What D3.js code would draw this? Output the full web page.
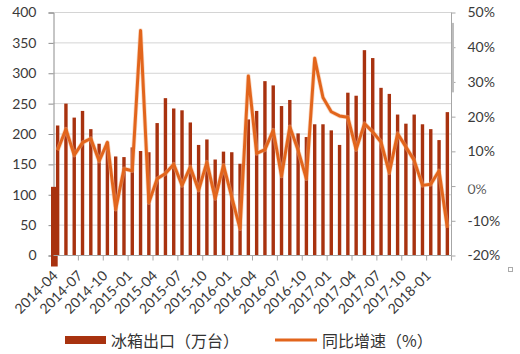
<!DOCTYPE html>
<html>
<head>
<meta charset="utf-8">
<script src="https://cdn.jsdelivr.net/npm/d3@7"></script>
<style>
  body { margin: 0; background: #fff; }
  .axis text { font-family: Lato, "Open Sans", sans-serif; font-size: 14px; fill: #3a3a3a; }
  .legend text { font-family: "Noto Sans CJK SC", sans-serif; font-size: 16px; fill: #333; }
</style>
</head>
<body>
<div id="chart-root"></div>
<script>
// months on the category axis
var months = [
  "2014-04","2014-05","2014-06","2014-07","2014-08","2014-09","2014-10","2014-11","2014-12",
  "2015-01","2015-02","2015-03","2015-04","2015-05","2015-06","2015-07","2015-08","2015-09",
  "2015-10","2015-11","2015-12","2016-01","2016-02","2016-03","2016-04","2016-05","2016-06",
  "2016-07","2016-08","2016-09","2016-10","2016-11","2016-12","2017-01","2017-02","2017-03",
  "2017-04","2017-05","2017-06","2017-07","2017-08","2017-09","2017-10","2017-11","2017-12",
  "2018-01","2018-02","2018-03"
];

// fridge exports (10k units)
var exports = [
  214, 250, 227, 238, 208, 184, 187, 163, 162,
  178, 172, 170, 218, 259, 242, 239, 219, 182,
  191, 158, 171, 170, 151, 224, 238, 287, 280,
  246, 256, 201, 195, 216, 216, 206, 182, 268,
  263, 338, 325, 276, 266, 232, 217, 232, 216,
  208, 190, 236
];

// year on year growth (%)
var growth = [
  10.3, 16.4, 8.9, 12.5, 13.7, 7.2, 12.6, -6.7, 5.0,
  4.4, 44.8, -4.8, 2.1, 3.6, 6.3, 0.2, 5.5, -1.2,
  6.9, -3.6, 6.0, -3.2, -12.3, 31.7, 9.4, 10.5, 16.1,
  2.9, 17.1, 10.3, 2.1, 36.8, 25.5, 21.4, 20.2, 19.8,
  10.5, 18.0, 15.6, 12.7, 3.8, 15.1, 11.3, 7.4, 0.2,
  0.5, 4.4, -12.0
];

// stray thick bar sitting on the left axis in the source picture
var ghostBar = [113];

var leftTicks  = [0, 50, 100, 150, 200, 250, 300, 350, 400];
var rightTicks = [-20, -10, 0, 10, 20, 30, 40, 50];
var seriesNames = ["冰箱出口（万台）", "同比增速（%）"];

(function () {
  var margin = { top: 12.5, left: 53.5, right: 68.5, bottom: 98.5 },
      width  = 520 - margin.left - margin.right,
      height = 354 - margin.top - margin.bottom;

  var barColor  = "#a8320f",
      lineColor = "#e2651c";

  var root = d3.select("#chart-root")
    .append("svg")
      .attr("width", 520)
      .attr("height", 354);

  var svg = root.append("g")
      .attr("transform", "translate(" + margin.left + "," + margin.top + ")");

  var x = d3.scaleBand()
      .domain(months)
      .range([0, width])
      .padding(0);

  var yL = d3.scaleLinear().domain([0, 400]).range([height, 0]);
  var yR = d3.scaleLinear().domain([-20, 50]).range([height, 0]);

  // the 0% label is half hidden in the source, keep only its lower part
  root.append("defs").append("clipPath")
      .attr("id", "zero-clip")
    .append("rect")
      .attr("x", -20).attr("y", -2)
      .attr("width", 60).attr("height", 20);

  // gridlines
  svg.append("g")
    .selectAll("line")
    .data(leftTicks.slice(1))
    .enter().append("line")
      .attr("x1", 0)
      .attr("x2", width)
      .attr("y1", function (d) { return yL(d); })
      .attr("y2", function (d) { return yL(d); })
      .attr("stroke", "#d4d4d4")
      .attr("stroke-width", 1);

  // left axis
  var gl = svg.append("g")
      .attr("class", "axis")
      .call(d3.axisLeft(yL).tickValues(leftTicks).tickSize(5).tickPadding(12));
  gl.selectAll("line, path").attr("stroke", "#8c8c8c");

  // right axis
  var gr = svg.append("g")
      .attr("class", "axis")
      .attr("transform", "translate(" + width + ",0)")
      .call(d3.axisRight(yR).tickValues(rightTicks).tickSize(4).tickPadding(12)
        .tickFormat(function (d) { return d + "%"; }));
  gr.selectAll("line, path").attr("stroke", "#a6a6a6");
  gr.select(".domain").attr("d", "M0,0V" + height);
  gr.selectAll(".tick")
    .filter(function (d) { return d === 0; })
    .attr("clip-path", "url(#zero-clip)")
    .select("text")
      .attr("dy", "0.5em")
      .attr("fill-opacity", 0.85);

  // grey scroll-like mark beside the right axis
  svg.append("rect")
      .attr("x", width + 0.5)
      .attr("y", yR(47))
      .attr("width", 2)
      .attr("height", yR(27) - yR(47))
      .attr("fill", "#bdbdbd");

  // bars
  var bw = 3.4;
  svg.append("g")
    .selectAll("rect")
    .data(exports)
    .enter().append("rect")
      .attr("x", function (d, i) { return x(months[i]) + x.bandwidth() / 2 - bw / 2; })
      .attr("y", function (d) { return yL(d); })
      .attr("width", bw)
      .attr("height", function (d) { return yL(0) - yL(d); })
      .attr("fill", barColor);

  svg.append("rect")
      .attr("x", x(months[0]) - 2.5)
      .attr("y", yL(ghostBar[0]))
      .attr("width", 6.7)
      .attr("height", yL(0) - yL(ghostBar[0]) + 11)
      .attr("fill", barColor);

  // bottom axis
  var gb = svg.append("g")
      .attr("class", "axis")
      .attr("transform", "translate(0," + height + ")");
  gb.append("line")
      .attr("x1", 0).attr("x2", width)
      .attr("stroke", "#a6a6a6");
  var every3 = months.filter(function (d, i) { return i % 3 === 0; });
  gb.selectAll(".tk")
    .data(every3.slice(1).concat(["end"]))
    .enter().append("line")
      .attr("class", "tk")
      .attr("x1", function (d) { return d === "end" ? width : x(d); })
      .attr("x2", function (d) { return d === "end" ? width : x(d); })
      .attr("y1", 0)
      .attr("y2", 5)
      .attr("stroke", "#a6a6a6");
  gb.selectAll("text")
    .data(every3)
    .enter().append("text")
      .attr("text-anchor", "end")
      .attr("transform", function (d) {
        return "translate(" + (x(d) + x.bandwidth() / 2 + 1) + ",21) rotate(-45)";
      })
      .text(function (d) { return d; });

  // growth line
  var line = d3.line()
      .x(function (d, i) { return x(months[i]) + x.bandwidth() / 2; })
      .y(function (d) { return yR(d); });

  svg.append("path")
      .datum(growth)
      .attr("fill", "none")
      .attr("stroke", "#f3b58e")
      .attr("stroke-opacity", 0.5)
      .attr("stroke-width", 4.5)
      .attr("stroke-linejoin", "round")
      .attr("d", line);
  svg.append("path")
      .datum(growth)
      .attr("fill", "none")
      .attr("stroke", lineColor)
      .attr("stroke-width", 3)
      .attr("stroke-linejoin", "round")
      .attr("d", line);

  // legend
  var lg = root.append("g").attr("class", "legend");
  lg.append("rect")
      .attr("x", 65).attr("y", 336)
      .attr("width", 41).attr("height", 8)
      .attr("fill", barColor);
  lg.append("text")
      .attr("x", 111).attr("y", 340)
      .attr("dominant-baseline", "central")
      .text(seriesNames[0]);
  lg.append("line")
      .attr("x1", 275).attr("x2", 317)
      .attr("y1", 340).attr("y2", 340)
      .attr("stroke", lineColor)
      .attr("stroke-width", 3);
  lg.append("text")
      .attr("x", 322).attr("y", 340)
      .attr("dominant-baseline", "central")
      .text(seriesNames[1]);

  // tiny corner handle
  root.append("rect")
      .attr("x", 508.5).attr("y", 267.5)
      .attr("width", 4).attr("height", 4)
      .attr("fill", "none")
      .attr("stroke", "#aaa");
})();
</script>
</body>
</html>
